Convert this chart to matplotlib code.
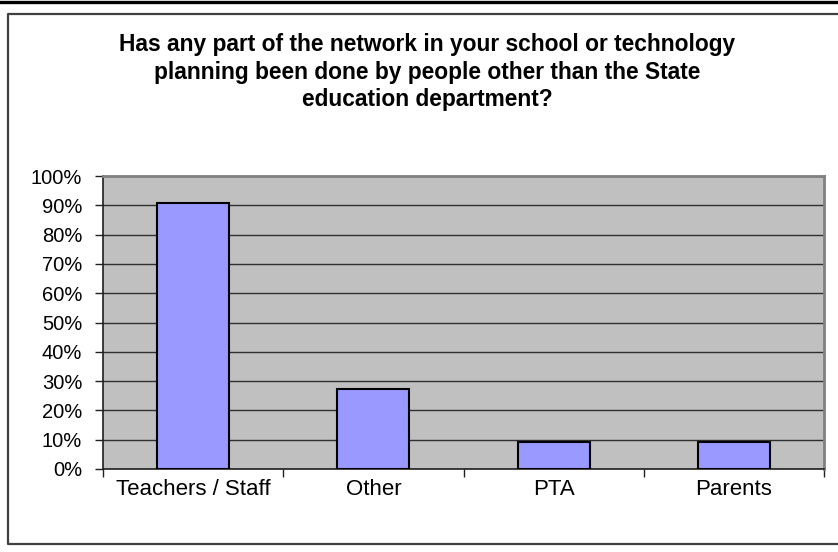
import matplotlib.pyplot as plt
from matplotlib.lines import Line2D
from matplotlib.ticker import PercentFormatter

categories = ["Teachers / Staff", "Other", "PTA", "Parents"]
shares = [0.909, 0.273, 0.091, 0.091]
yticks = [0.0, 0.1, 0.2, 0.3, 0.4, 0.5, 0.6, 0.7, 0.8, 0.9, 1.0]

title = ("Has any part of the network in your school or technology\n"
         "planning been done by people other than the State\n"
         "education department?")

plt.rcParams['font.family'] = ['Liberation Sans', 'DejaVu Sans']

fig = plt.figure(figsize=(8.38, 5.52), dpi=100)
fig.patch.set_facecolor("white")

# page rule and chart frame (frame runs off the right edge)
W, H = 838.0, 552.0
fig.add_artist(Line2D([0, 1], [1 - 1.5 / H, 1 - 1.5 / H], color="black", lw=2.4))
fx0 = 7.5 / W
fig.add_artist(Line2D([1.0, fx0, fx0, 1.0],
                      [1 - 13.5 / H, 1 - 13.5 / H, 1 - 544 / H, 1 - 544 / H],
                      color="#404040", lw=1.6))

ax = fig.add_axes([103 / W, 1 - 469 / H, (824 - 103) / W, (469 - 176) / H])
ax.set_facecolor("#C0C0C0")

x = list(range(len(categories)))
ax.bar(x, shares, width=0.4, color="#9999FF", edgecolor="black", linewidth=1.5, zorder=3)

ax.set_xlim(-0.5, len(categories) - 0.5)
ax.set_ylim(0, 1)
ax.set_yticks(yticks)
ax.yaxis.set_major_formatter(PercentFormatter(1.0, decimals=0))
ax.grid(axis="y", color="#303030", linewidth=1.0, zorder=1)

ax.set_xticks(x)
ax.set_xticklabels(categories)
ax.set_xticks([i - 0.5 for i in range(len(categories) + 1)], minor=True)
ax.tick_params(axis="x", which="major", length=0, pad=7, labelsize=16)
ax.tick_params(axis="x", which="minor", length=6, width=1, color="#202020")
ax.tick_params(axis="y", length=6, width=1, color="#202020", pad=9, labelsize=14.5)

for side in ("top", "right"):
    ax.spines[side].set_color("#808080")
    ax.spines[side].set_linewidth(2)
ax.spines["left"].set_color("#202020")
ax.spines["bottom"].set_color("#202020")
ax.spines["left"].set_linewidth(1.2)
ax.spines["bottom"].set_linewidth(1.2)

fig.text(427 / W, 1 - 72 / H, title, ha="center", va="center",
         fontsize=16.4, fontweight="bold", linespacing=1.24)

fig.savefig("out.png", dpi=100)
